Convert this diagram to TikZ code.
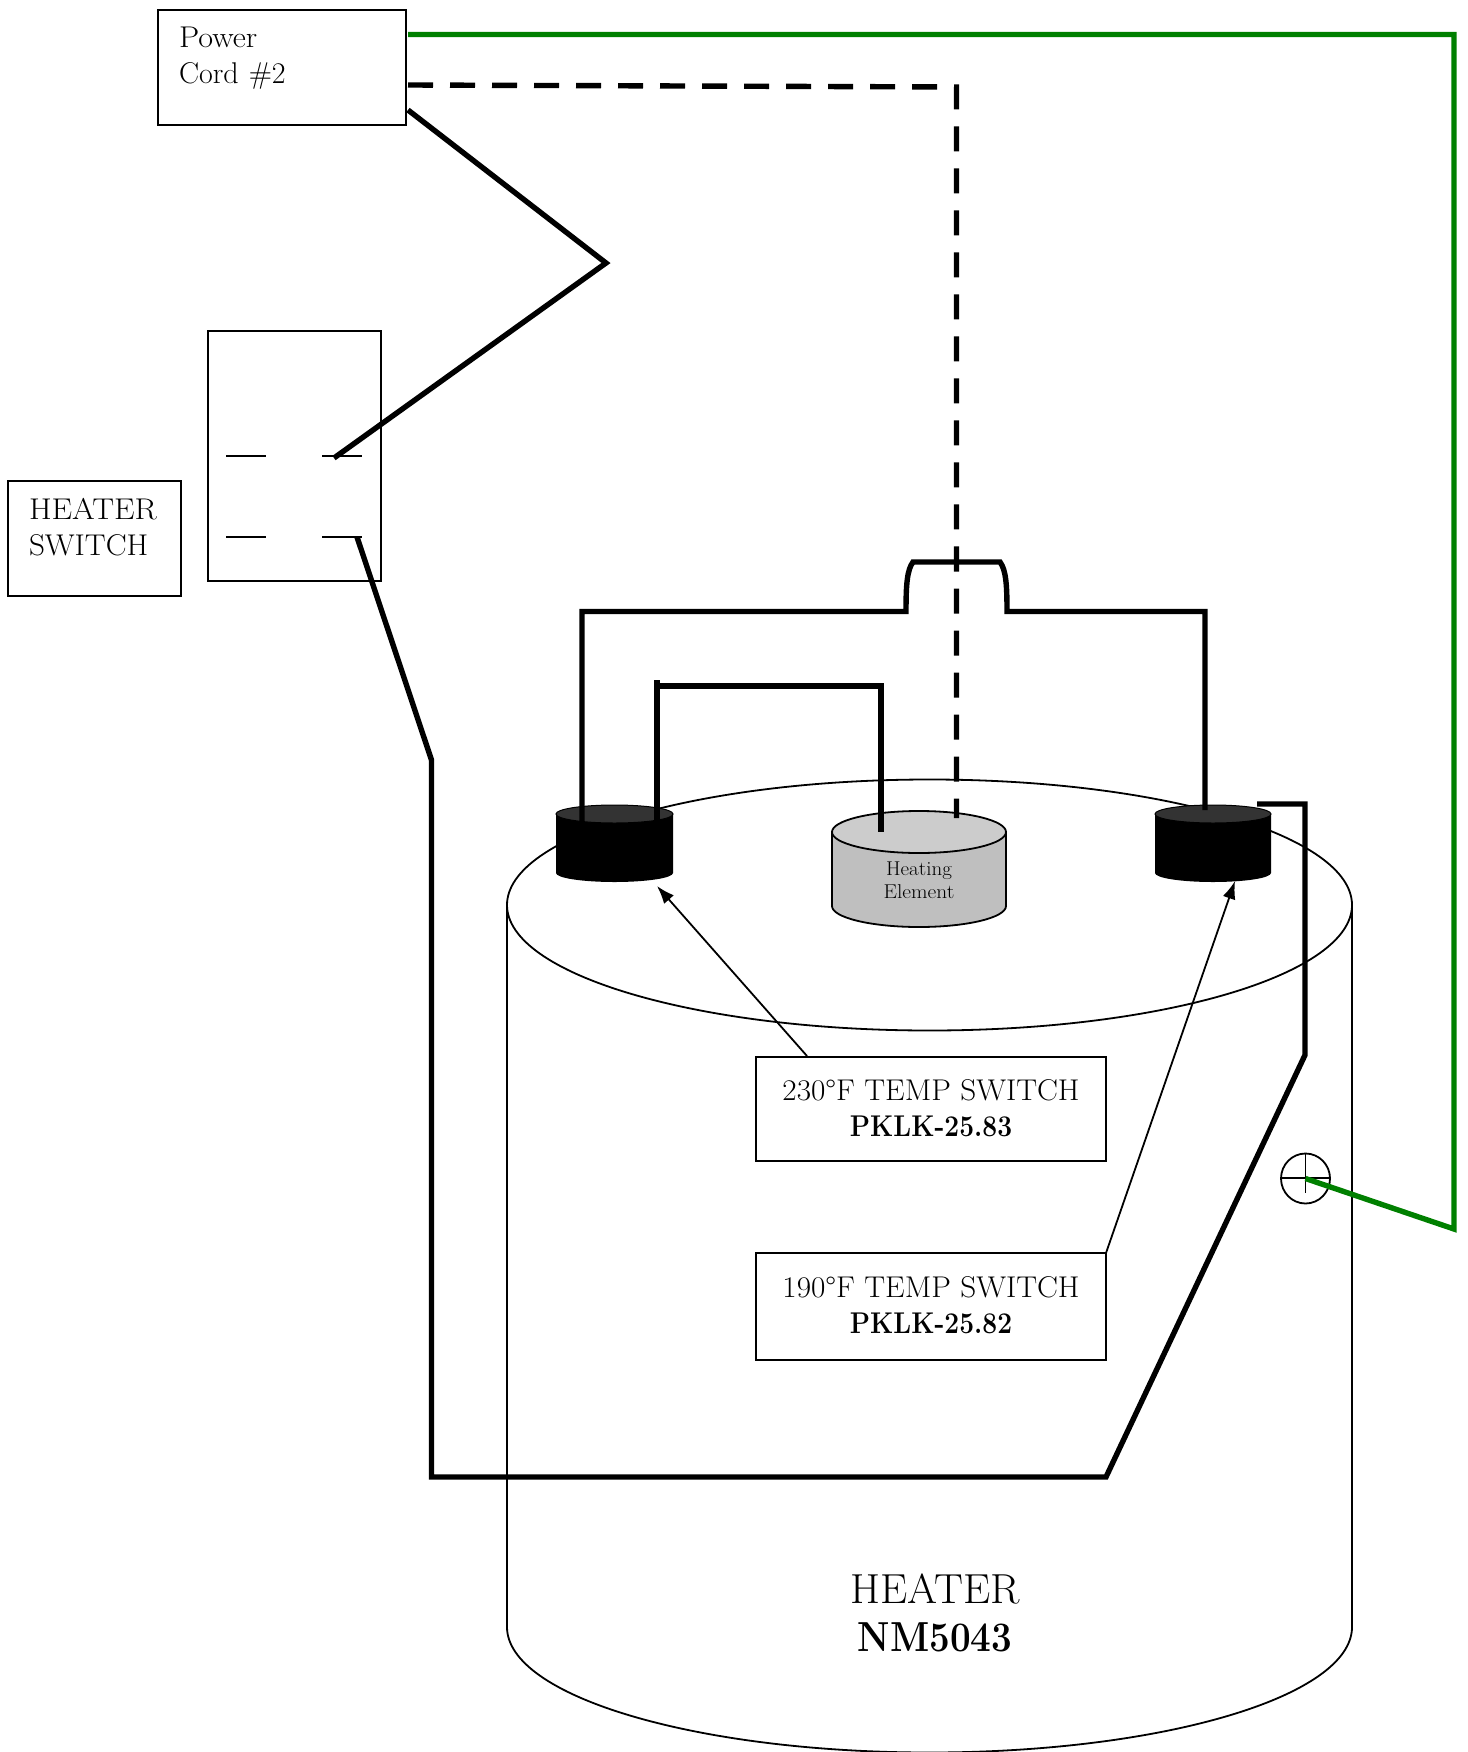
\documentclass[tikz,border=0pt]{standalone}
\usepackage{graphicx}
\usetikzlibrary{arrows.meta,shapes.geometric,calc}
\definecolor{wiregreen}{HTML}{008000}
\tikzset{
  thinline/.style={line width=1.8pt,black},
  wire/.style={line width=5.4pt,black,line join=miter},
  earthwire/.style={line width=5.4pt,wiregreen,line join=miter},
  dashwire/.style={line width=5.4pt,black,dash pattern=on 25pt off 17pt},
  note/.style={thinline,-{Latex[length=18pt,width=13pt]}},
  box/.style={draw,thinline,fill=white,rectangle,anchor=north west,inner sep=0pt,outer sep=0pt,font=\fontsize{30}{36}\selectfont},
  sidebox/.style={box,align=left,inner xsep=21pt},
  tempbox/.style={box,align=center},
  tag/.style={inner sep=0pt,align=center}
}
\newcommand{\hs}[2]{\scalebox{#1}[1]{#2}}
\begin{document}
\begin{tikzpicture}[x=1pt,y=-1pt]
\useasboundingbox (0,0) rectangle (1467,1752);
% heater drum
\path[thinline,draw,fill=white] (507,905) -- (507,1627) arc[start angle=180,end angle=360,x radius=422.5pt,y radius=125.5pt] -- (1352,905);
\draw[thinline] (929.5,905) ellipse [x radius=422.5pt,y radius=125.5pt];
% left thermostat
\path[fill=black] (556,814) -- (556,873) arc[start angle=180,end angle=360,x radius=58.5pt,y radius=9pt] -- (673,814) -- cycle;
\path[fill=black!80,draw=black,line width=1pt] (614.5,814) ellipse [x radius=58.5pt,y radius=9pt];
% right thermostat
\path[fill=black] (1155,814) -- (1155,873) arc[start angle=180,end angle=360,x radius=58pt,y radius=9pt] -- (1271,814) -- cycle;
\path[fill=black!80,draw=black,line width=1pt] (1213,814) ellipse [x radius=58pt,y radius=9pt];
% heating element
\path[thinline,draw,fill=black!25] (832,832) -- (832,906) arc[start angle=180,end angle=360,x radius=87pt,y radius=21pt] -- (1006,832) -- cycle;
\path[thinline,draw,fill=black!20] (919,832) ellipse [x radius=87pt,y radius=21pt];
\node[tag,font=\fontsize{20}{23}\selectfont] (element) at (919,880) {\hs{1.05}{Heating}\\\hs{1.07}{Element}};
% boxes
\node[sidebox,text width=206pt,minimum height=115pt] (power) at (158,10) {\hs{1.07}{Power}\\Cord \#2\\[-23pt]\strut};
\node[box,minimum width=173pt,minimum height=250pt] (switch) at (208,331) {};
\node[sidebox,text width=131pt,minimum height=115pt] (label) at (8,481) {\hs{1.09}{HEATER}\\\hs{1.04}{SWITCH}\\[-23pt]\strut};
\node[tempbox,minimum width=350pt,minimum height=104pt] (tempA) at (756,1057) {\hs{1.04}{230°F TEMP SWITCH}\\\hs{0.88}{\textbf{PKLK-25.83}}\\[-45pt]\strut};
\node[tempbox,minimum width=350pt,minimum height=107pt] (tempB) at (756,1253) {\hs{1.04}{190°F TEMP SWITCH}\\\hs{0.88}{\textbf{PKLK-25.82}}\\[-43pt]\strut};
\node[tag,font=\fontsize{42}{48}\selectfont] (heater) at (935,1613) {\hs{1.03}{HEATER}\\\hs{0.876}{\textbf{NM5043}}};
% switch terminals
\coordinate (t1a) at (226,456); \coordinate (t1b) at (266,456);
\coordinate (t2a) at (322,456); \coordinate (t2b) at (362,456);
\coordinate (t3a) at (226,537); \coordinate (t3b) at (266,537);
\coordinate (t4a) at (322,537); \coordinate (t4b) at (362,537);
\draw[thinline] (t1a) -- (t1b);
\draw[thinline] (t2a) -- (t2b);
\draw[thinline] (t3a) -- (t3b);
\draw[thinline] (t4a) -- (t4b);
% ground symbol
\coordinate (gnd) at (1305.5,1178.5);
\draw[thinline] (gnd) ellipse [x radius=24.5pt,y radius=25pt];
\draw[thinline] (1281,1178) -- (1330,1178);
\draw[thinline] (1305.5,1153) -- (1305.5,1193);
% wiring
\coordinate (pw1) at (408,34.5);
\coordinate (pw2) at (408,85);
\coordinate (pw3) at (408,110);
\coordinate (g1) at (1454,34.5);
\coordinate (g2) at (1454,1229);
\draw[earthwire] (pw1) -- (g1) -- (g2) -- (gnd);
\coordinate (d1) at (956.5,87);
\coordinate (d2) at (956.5,818);
\draw[dashwire] (pw2) -- (d1) -- (d2);
\coordinate (k1) at (606,263);
\coordinate (swin) at (334,458);
\draw[wire] (pw3) -- (k1) -- (swin);
\coordinate (w1) at (357,537);
\coordinate (w2) at (431.5,760);
\coordinate (w3) at (431.5,1477);
\coordinate (w4) at (1106,1477);
\coordinate (w5) at (1305,1055);
\coordinate (w6) at (1305,804);
\coordinate (w7) at (1257,804);
\draw[wire] (w1) -- (w2) -- (w3) -- (w4) -- (w5) -- (w6) -- (w7);
\coordinate (j1) at (582,822);
\coordinate (j2) at (582,611.5);
\coordinate (j3) at (906,611.5);
\coordinate (j4) at (913,562);
\coordinate (j5) at (1000,562);
\coordinate (j6) at (1007,611.5);
\coordinate (j7) at (1205,611.5);
\coordinate (j8) at (1205,810);
\draw[wire] (j1) -- (j2) -- (j3) .. controls (906,585) and (907,570) .. (j4) -- (j5) .. controls (1006,570) and (1007,585) .. (j6) -- (j7) -- (j8);
\coordinate (e1) at (657,822);
\coordinate (e0) at (657,680);
\coordinate (e2) at (657,686);
\coordinate (e3) at (881,686);
\coordinate (e4) at (881,832);
\draw[wire] (e1) -- (e0);
\draw[wire] (e2) -- (e3) -- (e4);
% callouts
\coordinate (tipA) at (657,886);
\coordinate (tipB) at (1235,881);
\coordinate (startA) at (807,1056);
\draw[note] (startA) -- (tipA);
\draw[note] (tempB.north east) -- (tipB);
\end{tikzpicture}
\end{document}
